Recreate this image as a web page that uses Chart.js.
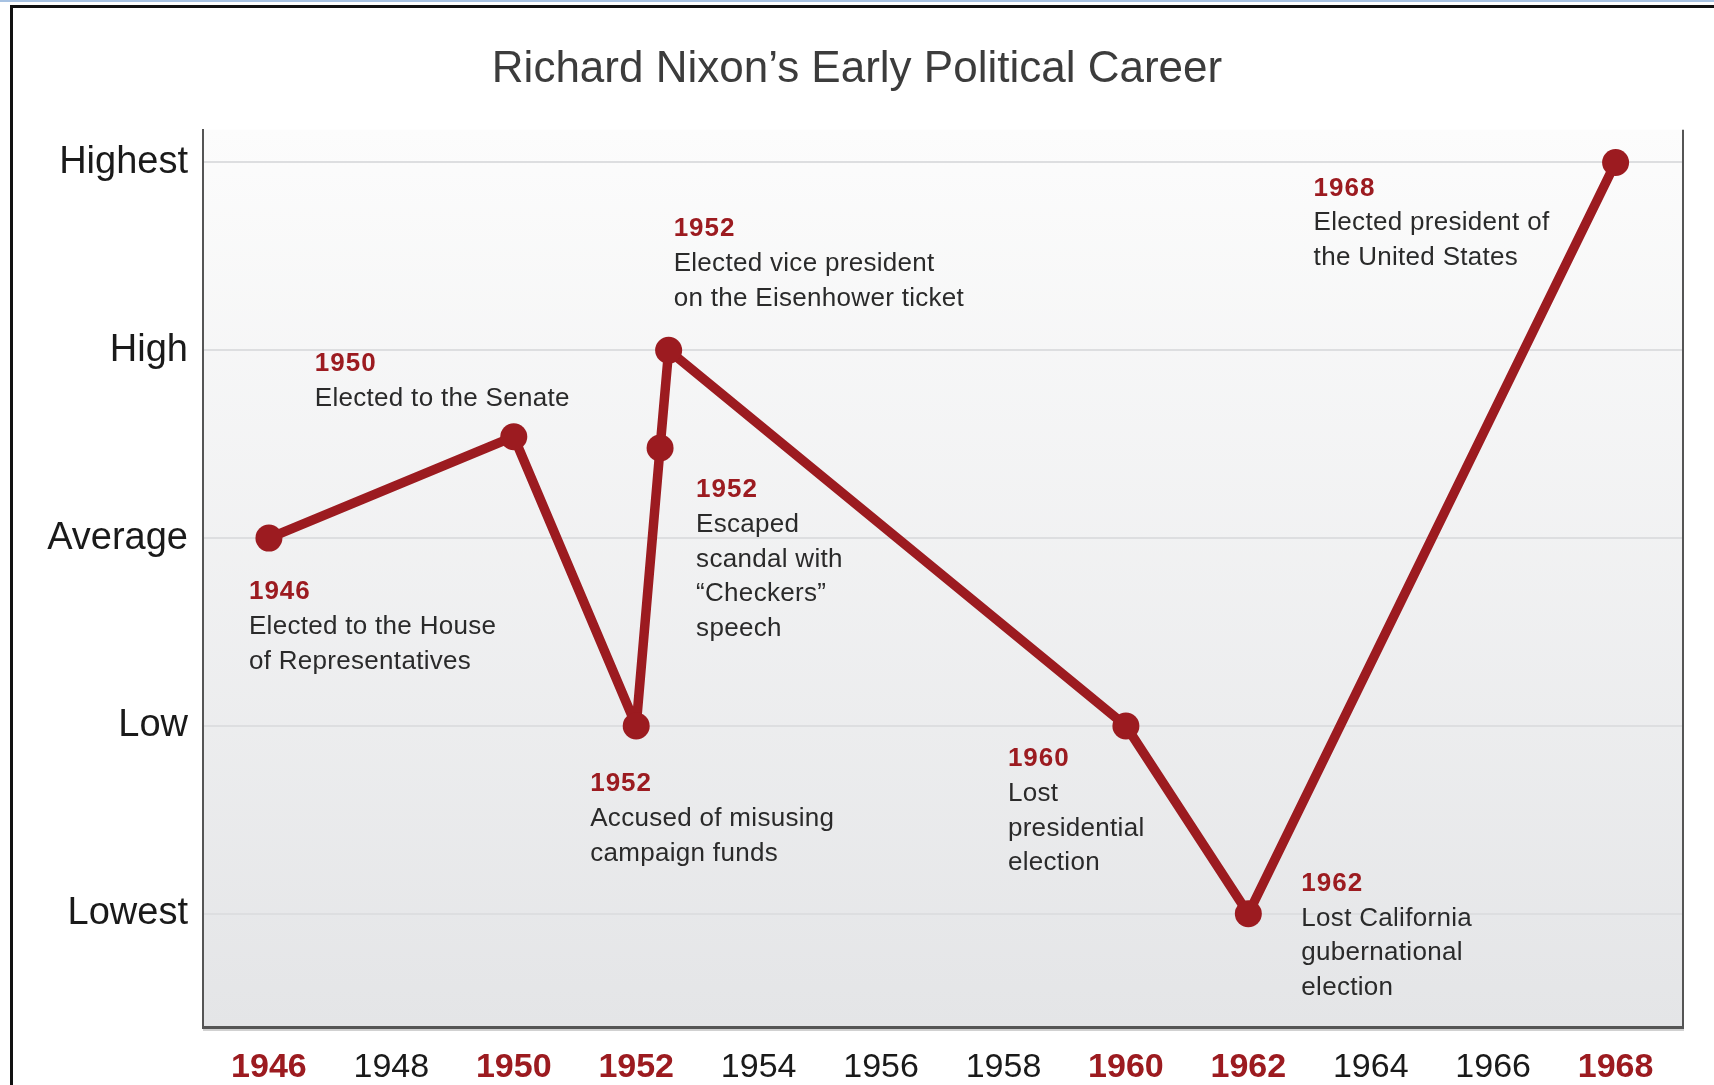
<!DOCTYPE html>
<html>
<head>
<meta charset="utf-8">
<title>Richard Nixon's Early Political Career</title>
<script src="https://cdn.jsdelivr.net/npm/chart.js@4.4.1/dist/chart.umd.min.js"></script>
<style>
  html, body { margin: 0; padding: 0; background: #fff; overflow: hidden; }
  #wrap { position: relative; width: 1714px; height: 1085px; }
  #topline { position: absolute; left: 0; top: 0; width: 1714px; height: 2px; background: #a7c2e2; }
  #frame { position: absolute; left: 10px; top: 5px; right: 0; bottom: 0; border-top: 3px solid #111; border-left: 3px solid #111; }
  #chartBox { position: absolute; left: 0; top: 0; width: 1714px; height: 1085px; }
</style>
</head>
<body>
<div id="wrap">
  <div id="topline"></div>
  <div id="frame"></div>
  <div id="chartBox"><canvas id="nixonChart"></canvas></div>
</div>
<script>
// --- data ---
const eventYears = [1946, 1950, 1952, 1952.39, 1952.53, 1960, 1962, 1968];
const standing = [2, 2.54, 1, 2.48, 3, 1, 0, 4]; // 0 = Lowest ... 4 = Highest
const levelLabels = ["Lowest", "Low", "Average", "High", "Highest"];
const tickYears = [1946, 1948, 1950, 1952, 1954, 1956, 1958, 1960, 1962, 1964, 1966, 1968];
const highlightYears = [1946, 1950, 1952, 1960, 1962, 1968];

// notes, one per event (same order as eventYears)
const noteYears = ["1946", "1950", "1952", "1952", "1952", "1960", "1962", "1968"];
const noteLines = [
  ["Elected to the House", "of Representatives"],
  ["Elected to the Senate"],
  ["Accused of misusing", "campaign funds"],
  ["Escaped", "scandal with", "\u201cCheckers\u201d", "speech"],
  ["Elected vice president", "on the Eisenhower ticket"],
  ["Lost", "presidential", "election"],
  ["Lost California", "gubernational", "election"],
  ["Elected president of", "the United States"],
];

// where each note sits relative to its point (pixels)
const noteOffsets = [[-20, 54], [-199, -73], [-46, 58], [36, 42], [5, -121], [-118, 33], [53, -30], [-302, 26]];

const RED = "#9c1b20";
const FONT = "'Liberation Sans', Arial, Helvetica, sans-serif";

function isHighlight(c) {
  return !!(c && c.tick && highlightYears.includes(c.tick.value));
}

// --- plugins ---
const plotBackground = {
  id: "plotBackground",
  beforeDraw(chart) {
    const { ctx, chartArea: a } = chart;
    const g = ctx.createLinearGradient(0, a.top, 0, a.bottom);
    g.addColorStop(0, "#fcfcfc");
    g.addColorStop(1, "#e4e5e7");
    ctx.save();
    ctx.fillStyle = g;
    ctx.fillRect(a.left, a.top, a.right - a.left, a.bottom - a.top);
    ctx.restore();
  },
  afterDraw(chart) {
    const { ctx, chartArea: a } = chart;
    ctx.save();
    // right edge of the plot box
    ctx.strokeStyle = "#555";
    ctx.lineWidth = 2;
    ctx.beginPath();
    ctx.moveTo(a.right, a.top);
    ctx.lineTo(a.right, a.bottom + 1);
    ctx.stroke();
    // soft shadow under the bottom edge
    ctx.strokeStyle = "rgba(0,0,0,0.18)";
    ctx.lineWidth = 2;
    ctx.beginPath();
    ctx.moveTo(a.left, a.bottom + 3);
    ctx.lineTo(a.right + 1, a.bottom + 3);
    ctx.stroke();
    ctx.restore();
  },
};

const eventNotes = {
  id: "eventNotes",
  afterDatasetsDraw(chart) {
    const { ctx } = chart;
    const pts = chart.getDatasetMeta(0).data;
    ctx.save();
    ctx.textBaseline = "middle";
    ctx.textAlign = "left";
    noteYears.forEach((yr, i) => {
      const p = pts[i];
      const x = p.x + noteOffsets[i][0];
      let y = p.y + noteOffsets[i][1];
      ctx.font = "bold 26px " + FONT;
      ctx.letterSpacing = "1px";
      ctx.fillStyle = RED;
      ctx.fillText(yr, x, y);
      ctx.font = "26px " + FONT;
      ctx.letterSpacing = "0.3px";
      ctx.fillStyle = "#2a2a2a";
      noteLines[i].forEach((line) => {
        y += 34.7;
        ctx.fillText(line, x, y);
      });
    });
    ctx.restore();
  },
};

const ctx = document.getElementById("nixonChart").getContext("2d");
new Chart(ctx, {
  type: "line",
  data: {
    datasets: [
      {
        data: eventYears.map((yr, i) => ({ x: yr, y: standing[i] })),
        borderColor: RED,
        backgroundColor: RED,
        borderWidth: 9.5,
        pointRadius: 13.5,
        pointHoverRadius: 13.5,
        pointBackgroundColor: RED,
        pointBorderWidth: 0,
        tension: 0,
        borderJoinStyle: "round",
      },
    ],
  },
  options: {
    responsive: true,
    maintainAspectRatio: false,
    animation: false,
    layout: { padding: 0 },
    plugins: {
      legend: { display: false },
      tooltip: { enabled: false },
      title: {
        display: true,
        text: "Richard Nixon\u2019s Early Political Career",
        color: "#3c3c3c",
        font: { family: FONT, size: 44, weight: "normal", lineHeight: 1.2 },
        padding: { top: 43, bottom: 34 },
      },
    },
    scales: {
      x: {
        type: "linear",
        min: 1944.923,
        max: 1969.101,
        afterFit: (s) => { s.height = 58; },
        afterBuildTicks: (s) => { s.ticks = tickYears.map((v) => ({ value: v })); },
        grid: { display: false, drawTicks: false },
        border: { display: true, color: "#555", width: 3 },
        ticks: {
          padding: 20,
          autoSkip: false,
          maxRotation: 0,
          callback: (v) => String(v),
          color: (c) => (isHighlight(c) ? RED : "#1a1a1a"),
          font: (c) => ({
            family: FONT,
            size: 34,
            weight: isHighlight(c) ? "bold" : "normal",
          }),
        },
      },
      y: {
        type: "linear",
        min: -0.603,
        max: 4.174,
        afterFit: (s) => { s.width = 203; },
        afterBuildTicks: (s) => { s.ticks = levelLabels.map((_, i) => ({ value: i })); },
        grid: { color: "#dddee0", lineWidth: 2, drawTicks: false },
        border: { display: true, color: "#555", width: 2 },
        ticks: {
          padding: 15,
          color: "#1a1a1a",
          font: { family: FONT, size: 38 },
          callback: (v) => levelLabels[v],
        },
      },
      yRight: {
        type: "linear",
        position: "right",
        afterFit: (s) => { s.width = 31; },
        grid: { display: false, drawTicks: false },
        border: { display: false },
        ticks: { display: false },
      },
    },
  },
  plugins: [plotBackground, eventNotes],
});
</script>
</body>
</html>
